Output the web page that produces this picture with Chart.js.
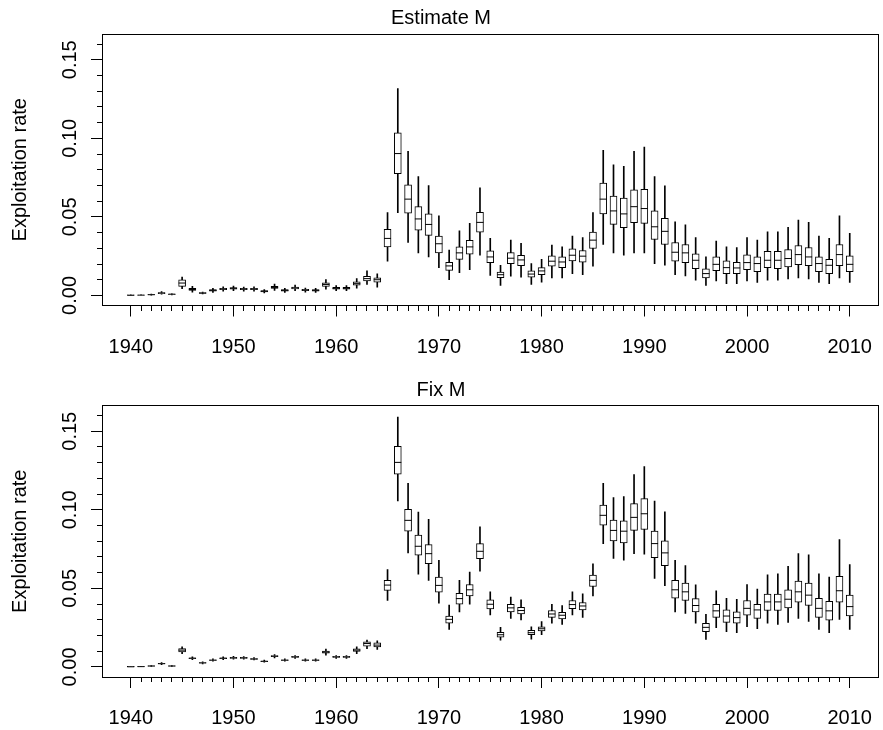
<!DOCTYPE html>
<html>
<head>
<meta charset="utf-8">
<title>Exploitation rate</title>
<script src="https://cdn.jsdelivr.net/npm/chart.js@4.4.1/dist/chart.umd.min.js"></script>
<style>
  html, body { margin: 0; padding: 0; background: #fff; }
  #wrap { position: relative; width: 883px; height: 730px; overflow: hidden; }
  #wrap canvas { position: absolute; left: 0; }
</style>
</head>
<body>
<div id="wrap">
  <canvas id="estChart" width="883" height="365" style="top:0px"></canvas>
  <canvas id="fixChart" width="883" height="365" style="top:365px"></canvas>
</div>
<script>
// Years on the x axis
const years = [
  1940, 1941, 1942, 1943, 1944, 1945, 1946, 1947, 1948, 1949,
  1950, 1951, 1952, 1953, 1954, 1955, 1956, 1957, 1958, 1959,
  1960, 1961, 1962, 1963, 1964, 1965, 1966, 1967, 1968, 1969,
  1970, 1971, 1972, 1973, 1974, 1975, 1976, 1977, 1978, 1979,
  1980, 1981, 1982, 1983, 1984, 1985, 1986, 1987, 1988, 1989,
  1990, 1991, 1992, 1993, 1994, 1995, 1996, 1997, 1998, 1999,
  2000, 2001, 2002, 2003, 2004, 2005, 2006, 2007, 2008, 2009,
  2010
];

// Estimate M: whisker low, lower quartile, median, upper quartile, whisker high
const estLow = [
  0.0000, 0.0000, 0.0002, 0.0008, 0.0004, 0.0043, 0.0021, 0.0010, 0.0019, 0.0027,
  0.0030, 0.0028, 0.0027, 0.0016, 0.0032, 0.0020, 0.0030, 0.0021, 0.0019, 0.0040,
  0.0030, 0.0030, 0.0047, 0.0070, 0.0053, 0.0218, 0.0527, 0.0337, 0.0271, 0.0245,
  0.0177, 0.0100, 0.0145, 0.0164, 0.0256, 0.0128, 0.0064, 0.0122, 0.0117, 0.0070,
  0.0085, 0.0111, 0.0111, 0.0139, 0.0132, 0.0186, 0.0324, 0.0271, 0.0256, 0.0271,
  0.0271, 0.0203, 0.0192, 0.0132, 0.0124, 0.0098, 0.0064, 0.0092, 0.0075, 0.0075,
  0.0092, 0.0083, 0.0098, 0.0098, 0.0105, 0.0111, 0.0105, 0.0083, 0.0075, 0.0111,
  0.0083
];
const estQ1 = [
  0.0000, 0.0001, 0.0004, 0.0012, 0.0006, 0.0058, 0.0032, 0.0013, 0.0028, 0.0036,
  0.0040, 0.0036, 0.0036, 0.0022, 0.0045, 0.0028, 0.0041, 0.0030, 0.0028, 0.0058,
  0.0040, 0.0040, 0.0065, 0.0092, 0.0085, 0.0309, 0.0775, 0.0523, 0.0416, 0.0382,
  0.0271, 0.0160, 0.0230, 0.0262, 0.0403, 0.0209, 0.0113, 0.0203, 0.0190, 0.0117,
  0.0132, 0.0186, 0.0177, 0.0220, 0.0211, 0.0299, 0.0519, 0.0452, 0.0431, 0.0463,
  0.0459, 0.0356, 0.0324, 0.0218, 0.0209, 0.0171, 0.0111, 0.0158, 0.0139, 0.0139,
  0.0164, 0.0152, 0.0177, 0.0171, 0.0181, 0.0196, 0.0190, 0.0152, 0.0139, 0.0190,
  0.0152
];
const estMed = [
  0.0001, 0.0002, 0.0005, 0.0015, 0.0008, 0.0079, 0.0038, 0.0015, 0.0032, 0.0041,
  0.0045, 0.0041, 0.0041, 0.0026, 0.0051, 0.0032, 0.0047, 0.0034, 0.0032, 0.0070,
  0.0045, 0.0045, 0.0075, 0.0107, 0.0100, 0.0363, 0.0903, 0.0613, 0.0487, 0.0452,
  0.0329, 0.0188, 0.0271, 0.0309, 0.0465, 0.0245, 0.0132, 0.0237, 0.0226, 0.0136,
  0.0156, 0.0218, 0.0213, 0.0256, 0.0250, 0.0352, 0.0613, 0.0538, 0.0519, 0.0565,
  0.0553, 0.0437, 0.0408, 0.0275, 0.0271, 0.0224, 0.0139, 0.0198, 0.0177, 0.0175,
  0.0209, 0.0203, 0.0224, 0.0224, 0.0235, 0.0260, 0.0245, 0.0203, 0.0192, 0.0260,
  0.0198
];
const estQ3 = [
  0.0002, 0.0003, 0.0006, 0.0018, 0.0009, 0.0100, 0.0045, 0.0018, 0.0037, 0.0046,
  0.0050, 0.0046, 0.0046, 0.0031, 0.0058, 0.0037, 0.0053, 0.0039, 0.0037, 0.0080,
  0.0051, 0.0051, 0.0086, 0.0122, 0.0112, 0.0420, 0.1035, 0.0704, 0.0565, 0.0519,
  0.0378, 0.0211, 0.0309, 0.0350, 0.0529, 0.0284, 0.0149, 0.0273, 0.0256, 0.0156,
  0.0177, 0.0252, 0.0245, 0.0297, 0.0286, 0.0403, 0.0715, 0.0632, 0.0619, 0.0672,
  0.0676, 0.0538, 0.0491, 0.0337, 0.0324, 0.0265, 0.0169, 0.0245, 0.0220, 0.0211,
  0.0258, 0.0245, 0.0280, 0.0280, 0.0292, 0.0318, 0.0305, 0.0245, 0.0230, 0.0324,
  0.0252
];
const estHigh = [
  0.0003, 0.0004, 0.0008, 0.0024, 0.0011, 0.0117, 0.0058, 0.0021, 0.0045, 0.0055,
  0.0060, 0.0054, 0.0055, 0.0038, 0.0072, 0.0045, 0.0066, 0.0047, 0.0045, 0.0101,
  0.0062, 0.0062, 0.0107, 0.0156, 0.0138, 0.0527, 0.1317, 0.0918, 0.0757, 0.0700,
  0.0506, 0.0288, 0.0412, 0.0459, 0.0685, 0.0363, 0.0192, 0.0352, 0.0331, 0.0203,
  0.0230, 0.0320, 0.0309, 0.0378, 0.0369, 0.0527, 0.0924, 0.0832, 0.0822, 0.0918,
  0.0945, 0.0757, 0.0698, 0.0469, 0.0450, 0.0369, 0.0245, 0.0346, 0.0309, 0.0305,
  0.0369, 0.0352, 0.0405, 0.0405, 0.0433, 0.0480, 0.0465, 0.0378, 0.0363, 0.0506,
  0.0395
];

// Fix M: whisker low, lower quartile, median, upper quartile, whisker high
const fixLow = [
  0.0000, 0.0000, 0.0003, 0.0015, 0.0003, 0.0085, 0.0046, 0.0020, 0.0036, 0.0047,
  0.0050, 0.0050, 0.0044, 0.0030, 0.0058, 0.0036, 0.0055, 0.0036, 0.0036, 0.0075,
  0.0055, 0.0055, 0.0085, 0.0117, 0.0111, 0.0423, 0.1056, 0.0726, 0.0591, 0.0551,
  0.0406, 0.0239, 0.0350, 0.0399, 0.0610, 0.0331, 0.0171, 0.0309, 0.0299, 0.0177,
  0.0205, 0.0278, 0.0271, 0.0331, 0.0316, 0.0452, 0.0785, 0.0691, 0.0679, 0.0721,
  0.0717, 0.0563, 0.0517, 0.0350, 0.0341, 0.0278, 0.0175, 0.0250, 0.0224, 0.0218,
  0.0256, 0.0243, 0.0278, 0.0271, 0.0284, 0.0309, 0.0290, 0.0239, 0.0218, 0.0303,
  0.0239
];
const fixQ1 = [
  0.0000, 0.0001, 0.0005, 0.0019, 0.0005, 0.0096, 0.0052, 0.0024, 0.0041, 0.0052,
  0.0055, 0.0055, 0.0048, 0.0034, 0.0065, 0.0041, 0.0061, 0.0041, 0.0041, 0.0087,
  0.0061, 0.0061, 0.0099, 0.0132, 0.0128, 0.0487, 0.1227, 0.0864, 0.0711, 0.0657,
  0.0476, 0.0278, 0.0399, 0.0452, 0.0689, 0.0369, 0.0190, 0.0350, 0.0337, 0.0205,
  0.0229, 0.0316, 0.0305, 0.0371, 0.0363, 0.0512, 0.0903, 0.0802, 0.0790, 0.0869,
  0.0875, 0.0696, 0.0645, 0.0437, 0.0423, 0.0350, 0.0224, 0.0316, 0.0284, 0.0278,
  0.0329, 0.0309, 0.0359, 0.0359, 0.0376, 0.0412, 0.0391, 0.0316, 0.0297, 0.0412,
  0.0324
];
const fixMed = [
  0.0001, 0.0002, 0.0006, 0.0021, 0.0006, 0.0107, 0.0055, 0.0026, 0.0043, 0.0055,
  0.0058, 0.0058, 0.0051, 0.0036, 0.0068, 0.0043, 0.0064, 0.0043, 0.0043, 0.0094,
  0.0064, 0.0064, 0.0107, 0.0149, 0.0139, 0.0521, 0.1302, 0.0933, 0.0768, 0.0721,
  0.0519, 0.0303, 0.0435, 0.0491, 0.0736, 0.0399, 0.0205, 0.0376, 0.0359, 0.0218,
  0.0243, 0.0337, 0.0329, 0.0397, 0.0388, 0.0551, 0.0965, 0.0869, 0.0864, 0.0952,
  0.0975, 0.0785, 0.0726, 0.0491, 0.0478, 0.0391, 0.0252, 0.0357, 0.0324, 0.0314,
  0.0373, 0.0363, 0.0414, 0.0414, 0.0431, 0.0478, 0.0457, 0.0373, 0.0357, 0.0485,
  0.0384
];
const fixQ3 = [
  0.0002, 0.0003, 0.0007, 0.0023, 0.0007, 0.0117, 0.0058, 0.0028, 0.0046, 0.0058,
  0.0061, 0.0061, 0.0054, 0.0038, 0.0072, 0.0046, 0.0067, 0.0046, 0.0046, 0.0101,
  0.0067, 0.0067, 0.0115, 0.0160, 0.0154, 0.0551, 0.1404, 0.1003, 0.0839, 0.0779,
  0.0572, 0.0324, 0.0469, 0.0525, 0.0785, 0.0427, 0.0220, 0.0399, 0.0380, 0.0233,
  0.0256, 0.0359, 0.0348, 0.0423, 0.0410, 0.0585, 0.1031, 0.0935, 0.0930, 0.1039,
  0.1071, 0.0864, 0.0802, 0.0551, 0.0534, 0.0435, 0.0278, 0.0399, 0.0363, 0.0350,
  0.0423, 0.0399, 0.0463, 0.0463, 0.0491, 0.0546, 0.0534, 0.0437, 0.0418, 0.0576,
  0.0457
];
const fixHigh = [
  0.0003, 0.0004, 0.0009, 0.0027, 0.0009, 0.0128, 0.0064, 0.0032, 0.0051, 0.0064,
  0.0067, 0.0066, 0.0059, 0.0043, 0.0079, 0.0051, 0.0073, 0.0051, 0.0051, 0.0113,
  0.0073, 0.0073, 0.0128, 0.0171, 0.0166, 0.0619, 0.1590, 0.1169, 0.0986, 0.0939,
  0.0679, 0.0393, 0.0551, 0.0604, 0.0892, 0.0478, 0.0252, 0.0444, 0.0427, 0.0256,
  0.0288, 0.0399, 0.0391, 0.0478, 0.0465, 0.0657, 0.1169, 0.1078, 0.1084, 0.1225,
  0.1276, 0.1056, 0.0988, 0.0679, 0.0645, 0.0523, 0.0335, 0.0485, 0.0437, 0.0431,
  0.0525, 0.0495, 0.0587, 0.0593, 0.0640, 0.0721, 0.0713, 0.0593, 0.0572, 0.0811,
  0.0651
];

const FONT = "'Liberation Sans', Arial, Helvetica, sans-serif";
Chart.defaults.font.family = FONT;
Chart.defaults.font.size = 20;
Chart.defaults.color = '#000';

// Box around the plotting region
const framePlugin = {
  id: 'frame',
  afterDraw(chart) {
    const { ctx, chartArea: a } = chart;
    const l = Math.floor(a.left) + 0.5, t = Math.floor(a.top) + 0.5;
    const r = Math.floor(a.right) + 0.5, b = Math.floor(a.bottom) + 0.5;
    ctx.save();
    ctx.strokeStyle = '#000';
    ctx.lineWidth = 1;
    ctx.strokeRect(l, t, r - l, b - t);
    ctx.restore();
  }
};

function isMajorYear(c) { return c.tick && Math.round(c.tick.value) % 10 === 0; }
function isMajorRate(c) { return c.tick && Math.round(c.tick.value * 100) % 5 === 0; }

function drawPanel(canvasId, title, low, q1, med, q3, high, geom) {
  const whiskers = years.map((yr, i) => ({ x: yr, y: [low[i], high[i]] }));
  const boxes = years.map((yr, i) => ({ x: yr, y: [q1[i], q3[i]] }));
  const medians = years.map((yr, i) => ({ x: yr, y: med[i] }));

  return new Chart(document.getElementById(canvasId), {
    type: 'bar',
    data: {
      datasets: [
        {
          label: 'range',
          data: whiskers,
          order: 3,
          grouped: false,
          barThickness: 1,
          backgroundColor: '#000',
          borderWidth: 0
        },
        {
          label: 'interquartile',
          data: boxes,
          order: 2,
          grouped: false,
          barThickness: 7,
          backgroundColor: '#fff',
          borderColor: '#000',
          borderWidth: 1,
          borderSkipped: false
        },
        {
          type: 'scatter',
          label: 'median',
          data: medians,
          order: 1,
          pointStyle: 'line',
          radius: 3.5,
          hoverRadius: 3.5,
          borderWidth: 1,
          borderColor: '#000',
          backgroundColor: '#000'
        }
      ]
    },
    options: {
      responsive: false,
      animation: false,
      events: [],
      devicePixelRatio: 1,
      layout: { padding: { left: 0, right: 1, top: 0, bottom: 0 } },
      plugins: {
        legend: { display: false },
        tooltip: { enabled: false },
        title: {
          display: true,
          text: title,
          color: '#000',
          font: { size: 20, weight: 'normal', family: FONT },
          padding: { top: geom.titleTop, bottom: geom.titleBottom }
        }
      },
      scales: {
        x: {
          type: 'linear',
          min: 1937.2,
          max: 2012.8,
          offset: false,
          afterBuildTicks: (s) => { s.ticks = s.ticks.filter(t => t.value >= 1940 && t.value <= 2010); },
          afterFit: (s) => { s.height = geom.xHeight; s.paddingLeft = 0; s.paddingRight = 0; },
          border: { display: false },
          grid: {
            drawOnChartArea: false,
            offset: false,
            tickLength: 11,
            tickWidth: 1,
            tickColor: '#000',
            tickBorderDash: (c) => isMajorYear(c) ? [] : [5, 100]
          },
          ticks: {
            stepSize: 1,
            autoSkip: false,
            includeBounds: false,
            minRotation: 0,
            maxRotation: 0,
            padding: 18.5,
            color: '#000',
            font: { size: 20, family: FONT },
            callback: (v) => (Math.round(v) % 10 === 0 ? String(Math.round(v)) : '')
          }
        },
        y: {
          type: 'linear',
          min: -0.0064,
          max: 0.1664,
          afterBuildTicks: (s) => { s.ticks = s.ticks.filter(t => t.value >= -1e-9 && t.value <= 0.16 + 1e-9); },
          afterFit: (s) => { s.width = 102; s.paddingTop = 0; s.paddingBottom = 0; },
          border: { display: false },
          grid: {
            drawOnChartArea: false,
            tickLength: 11,
            tickWidth: 1,
            tickColor: '#000',
            tickBorderDash: (c) => isMajorRate(c) ? [] : [5, 6],
            tickBorderDashOffset: (c) => isMajorRate(c) ? 0 : 5
          },
          ticks: {
            stepSize: 0.01,
            autoSkip: false,
            includeBounds: false,
            minRotation: 90,
            maxRotation: 90,
            crossAlign: 'center',
            padding: 1.5,
            color: '#000',
            font: { size: 20, family: FONT },
            callback: (v) => {
              const k = Math.round(v * 100);
              return k % 5 === 0 ? (k / 100).toFixed(2) : '';
            }
          },
          title: {
            display: true,
            text: 'Exploitation rate',
            color: '#000',
            font: { size: 20, family: FONT },
            padding: { top: 8, bottom: 0 }
          }
        }
      }
    },
    plugins: [framePlugin]
  });
}

drawPanel('estChart', 'Estimate M', estLow, estQ1, estMed, estQ3, estHigh,
  { titleTop: 6, titleBottom: 4, xHeight: 59.5 });
drawPanel('fixChart', 'Fix M', fixLow, fixQ1, fixMed, fixQ3, fixHigh,
  { titleTop: 13, titleBottom: 3.5, xHeight: 53 });
</script>
</body>
</html>
